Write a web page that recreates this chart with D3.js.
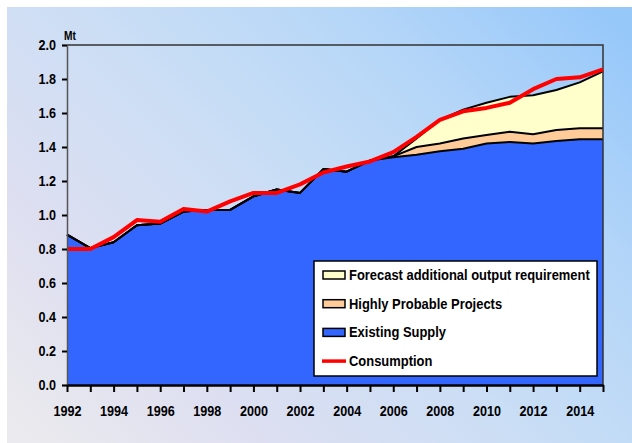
<!DOCTYPE html>
<html>
<head>
<meta charset="utf-8">
<script src="https://cdn.jsdelivr.net/npm/d3@7"></script>
<style>
  body { margin: 0; background: #fff; }
  svg { display: block; font-family: "Liberation Sans", Arial, sans-serif; font-weight: bold; }
</style>
</head>
<body>
<figure id="chart" style="margin:0"></figure>
<script>
const years = [1992, 1993, 1994, 1995, 1996, 1997, 1998, 1999, 2000, 2001, 2002, 2003,
               2004, 2005, 2006, 2007, 2008, 2009, 2010, 2011, 2012, 2013, 2014, 2015];

// stacked increments (Mt)
const existingSupply = [0.885, 0.805, 0.84, 0.94, 0.95, 1.02, 1.03, 1.03, 1.11, 1.15, 1.13, 1.27,
                        1.255, 1.32, 1.34, 1.355, 1.375, 1.39, 1.42, 1.43, 1.42, 1.435, 1.445, 1.445];
const probableProjects = [0, 0, 0, 0, 0, 0, 0, 0, 0, 0, 0, 0,
                          0, 0, 0.005, 0.045, 0.045, 0.06, 0.05, 0.06, 0.055, 0.065, 0.065, 0.065];
const forecastAdditional = [0, 0, 0, 0, 0, 0, 0, 0, 0, 0, 0, 0,
                            0, 0, 0, 0.05, 0.14, 0.17, 0.19, 0.205, 0.23, 0.235, 0.27, 0.335];
const consumption = [0.80, 0.80, 0.87, 0.97, 0.96, 1.035, 1.02, 1.08, 1.13, 1.13, 1.18, 1.25,
                     1.285, 1.315, 1.37, 1.46, 1.56, 1.61, 1.63, 1.66, 1.74, 1.80, 1.81, 1.857];

const yTicks = [0, 0.2, 0.4, 0.6, 0.8, 1.0, 1.2, 1.4, 1.6, 1.8, 2.0];
const xLabelYears = [1992, 1994, 1996, 1998, 2000, 2002, 2004, 2006, 2008, 2010, 2012, 2014];

const seriesNames = ["Existing Supply", "Highly Probable Projects", "Forecast additional output requirement"];
const seriesColors = ["#3366ff", "#ffcc99", "#ffffcc"];

const width = 632, height = 443;
const margin = {top: 45, right: 29, bottom: 58, left: 67};
const squeeze = 0.9; // the original lettering is a bit condensed

const svg = d3.select("#chart").append("svg")
  .attr("width", width)
  .attr("height", height);

// background gradient
const grad = svg.append("defs").append("linearGradient")
  .attr("id", "bg")
  .attr("gradientUnits", "userSpaceOnUse")
  .attr("x1", 60).attr("y1", 470)
  .attr("x2", 560).attr("y2", -30);
[["0", "#ebeaee"], ["0.22", "#dedff1"], ["0.5", "#cadef5"], ["0.75", "#b5d6f8"], ["1", "#97c8fa"]]
  .forEach(s => grad.append("stop").attr("offset", s[0]).attr("stop-color", s[1]));

svg.append("rect").attr("width", width).attr("height", height).attr("fill", "#fff");
svg.append("rect")
  .attr("x", 7).attr("y", 7)
  .attr("width", width - 7).attr("height", height - 7)
  .attr("fill", "url(#bg)");

const x = d3.scaleLinear()
  .domain([years[0], years[years.length - 1]])
  .range([margin.left, width - margin.right]);

const y = d3.scaleLinear()
  .domain([0, 2])
  .range([height - margin.bottom, margin.top]);

const rows = years.map((yr, i) => ({
  year: yr,
  "Existing Supply": existingSupply[i],
  "Highly Probable Projects": probableProjects[i],
  "Forecast additional output requirement": forecastAdditional[i]
}));

const stacked = d3.stack().keys(seriesNames)(rows);

const area = d3.area()
  .x(d => x(d.data.year))
  .y0(d => y(d[0]))
  .y1(d => y(d[1]));

const topLine = d3.line()
  .x(d => x(d.data.year))
  .y(d => y(d[1]));

svg.selectAll("path.area")
  .data(stacked)
  .enter()
  .append("path")
  .attr("class", "area")
  .attr("d", area)
  .attr("fill", (d, i) => seriesColors[i]);

svg.selectAll("path.edge")
  .data(stacked)
  .enter()
  .append("path")
  .attr("class", "edge")
  .attr("d", topLine)
  .attr("fill", "none")
  .attr("stroke", "#000")
  .attr("stroke-width", 2)
  .attr("stroke-linejoin", "round");

// plot frame top / right
svg.append("path")
  .attr("d", `M${x.range()[0]},${y(2)}H${x.range()[1]}V${y(0)}`)
  .attr("fill", "none")
  .attr("stroke", "#333")
  .attr("stroke-width", 1.5);

// consumption line
const consLine = d3.line()
  .x((d, i) => x(years[i]))
  .y(d => y(d));

svg.append("path")
  .datum(consumption)
  .attr("d", consLine)
  .attr("fill", "none")
  .attr("stroke", "#ff0000")
  .attr("stroke-width", 4)
  .attr("stroke-linejoin", "round");

// Y axis
const yAxis = svg.append("g")
  .attr("transform", `translate(${margin.left},0)`)
  .call(d3.axisLeft(y).tickValues(yTicks).tickFormat(d3.format(".1f")).tickSize(5).tickPadding(6));
yAxis.select(".domain").attr("stroke", "#555").attr("stroke-width", 1.5);
yAxis.selectAll(".tick line").attr("stroke", "#000").attr("stroke-width", 2);
yAxis.selectAll("text")
  .attr("font-size", 14).attr("font-family", "Liberation Sans, Arial").attr("font-weight", "bold").attr("fill", "#000")
  .attr("x", -11 / squeeze)
  .attr("transform", `scale(${squeeze},1)`);

// X axis
const xAxis = svg.append("g")
  .attr("transform", `translate(0,${height - margin.bottom})`)
  .call(d3.axisBottom(x).tickValues(years)
    .tickFormat(d => xLabelYears.includes(d) ? String(d) : "")
    .tickSize(7).tickPadding(14).tickSizeOuter(0));
xAxis.select(".domain").attr("stroke", "#000").attr("stroke-width", 2.5);
xAxis.selectAll(".tick line").attr("stroke", "#000").attr("stroke-width", 2);
xAxis.selectAll("text")
  .attr("font-size", 14).attr("font-family", "Liberation Sans, Arial").attr("font-weight", "bold").attr("fill", "#000")
  .attr("transform", `scale(${squeeze},1)`);

svg.append("text")
  .attr("x", 64 / 0.85).attr("y", 40)
  .attr("font-size", 12)
  .attr("transform", "scale(0.85,1)")
  .text("Mt");

// legend
const legend = svg.append("g").attr("transform", "translate(314,261)");
legend.append("rect")
  .attr("width", 283).attr("height", 115)
  .attr("fill", "#fff")
  .attr("stroke", "#000")
  .attr("stroke-width", 1.5);

const legendItems = [
  {name: seriesNames[2], color: seriesColors[2], type: "box"},
  {name: seriesNames[1], color: seriesColors[1], type: "box"},
  {name: seriesNames[0], color: seriesColors[0], type: "box"},
  {name: "Consumption", color: "#ff0000", type: "line"}
];

const item = legend.selectAll("g.item")
  .data(legendItems)
  .enter()
  .append("g")
  .attr("class", "item")
  .attr("transform", (d, i) => `translate(0,${14 + i * 28.7})`);

item.filter(d => d.type === "box").append("rect")
  .attr("x", 9).attr("y", -4)
  .attr("width", 22).attr("height", 8)
  .attr("fill", d => d.color)
  .attr("stroke", "#000")
  .attr("stroke-width", 1.5);

item.filter(d => d.type === "line").append("line")
  .attr("x1", 8).attr("x2", 32)
  .attr("stroke", d => d.color)
  .attr("stroke-width", 3.5);

item.append("text")
  .attr("x", 35 / 0.925)
  .attr("dy", "0.36em")
  .attr("font-size", 14)
  .attr("transform", "scale(0.925,1)")
  .text(d => d.name);
</script>
</body>
</html>
